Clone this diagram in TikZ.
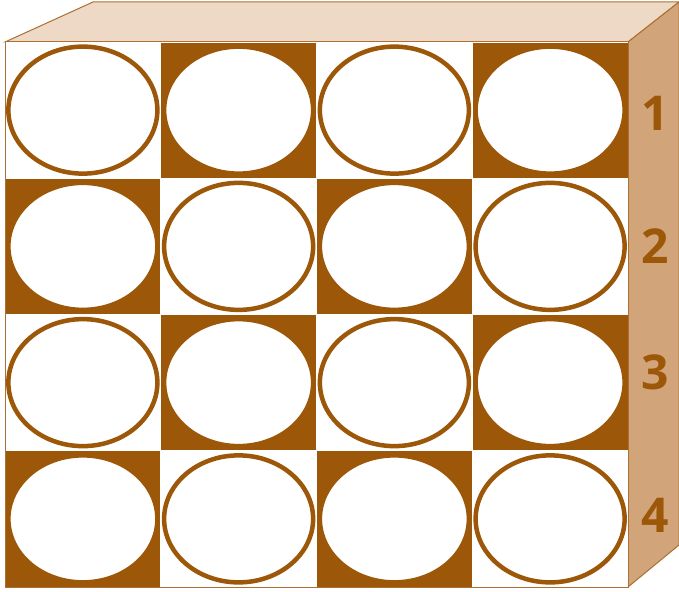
\documentclass[tikz,border=0pt]{standalone}
\usepackage{fontspec}
\setsansfont{Open Sans}
\usetikzlibrary{positioning}

\definecolor{rust}{RGB}{156,87,8}
\definecolor{topside}{RGB}{238,217,199}
\definecolor{rightside}{RGB}{209,164,121}
\definecolor{rim}{RGB}{172,112,52}

\begin{document}
\begin{tikzpicture}[
        x = 1pt, y = -1pt,
        face/.style = {draw = rim, line width = 1pt},
        darkcell/.style = {fill = rust, draw = white, line width = 0.8pt},
        hole/.style = {draw = rust, fill = white, line width = 4.5pt},
        rowlabel/.style = {text = rust, inner sep = 0pt,
            font = \sffamily\bfseries\fontsize{48}{48}\selectfont}
    ]
      \useasboundingbox (0,0) rectangle (679,591);

      % box sides
      \filldraw[face, fill = topside] (5,42) -- (93,2) -- (679,2) -- (628,42) -- cycle;
      \filldraw[face, fill = rightside] (628,42) -- (679,2) -- (679,545) -- (628,587) -- cycle;
      \filldraw[face, fill = white] (5,42) rectangle (628,587);

      % checkerboard with holes
      \foreach \r in {0,...,3}
        \foreach \c in {0,...,3} {
          \pgfmathsetmacro\xa{5 + 155.75*\c}
          \pgfmathsetmacro\ya{42 + 136.25*\r}
          \ifodd\numexpr\r+\c\relax
            \path[darkcell] (\xa,\ya) rectangle ++(155.75,136.25);
          \fi
          \path[hole] (\xa+77.875,\ya+68.125) ellipse [x radius = 74.5pt, y radius = 63.5pt];
        }
      \draw[face, fill = none] (5,42) rectangle (628,587);

      % row numbers
      \node[rowlabel] (one)   at (655,113) {1};
      \node[rowlabel] (two)   at (655,246) {2};
      \node[rowlabel] (three) at (655,372) {3};
      \node[rowlabel] (four)  at (655,515) {4};
    \end{tikzpicture}
\end{document}
